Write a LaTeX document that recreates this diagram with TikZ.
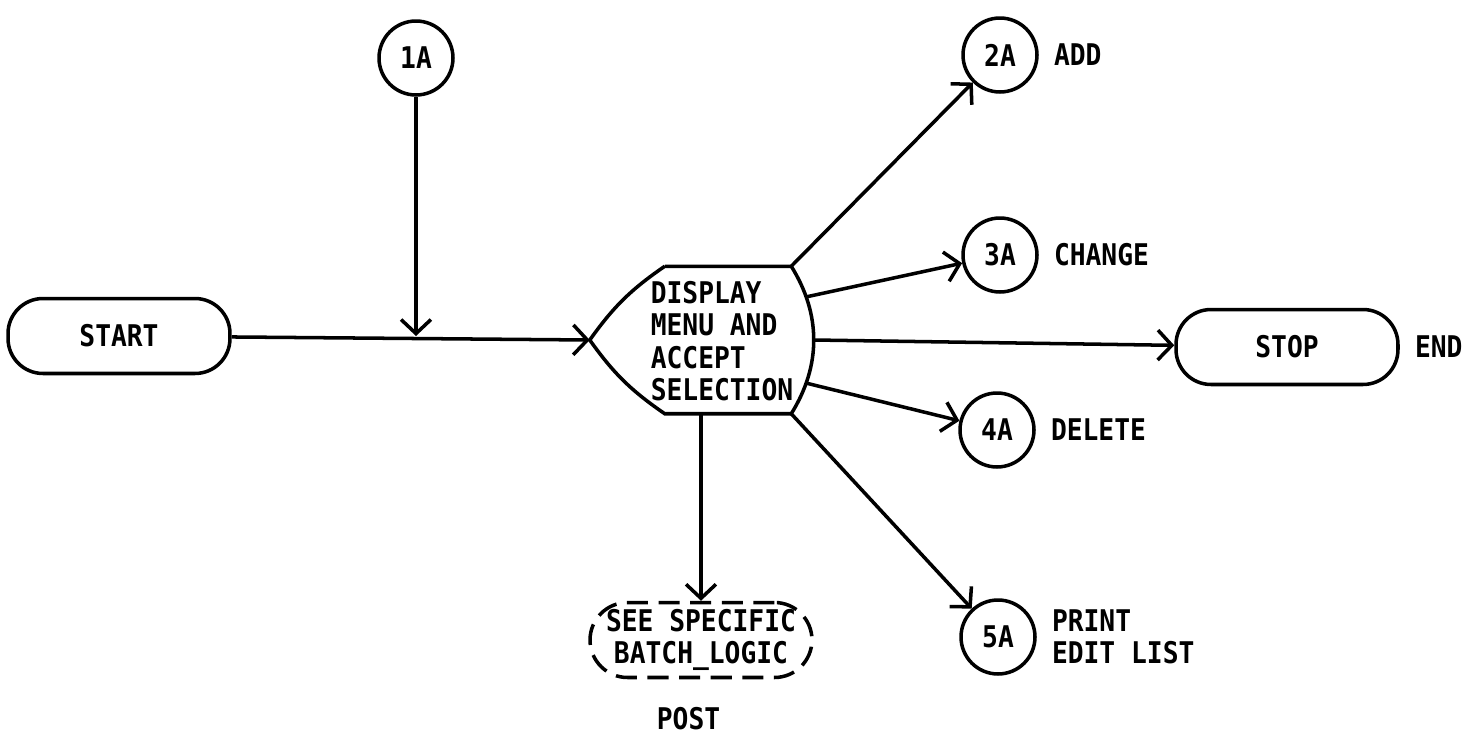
\documentclass[tikz,border=0pt]{standalone}
\usepackage{fontspec}
\newfontfamily\plotfont{DejaVu Sans Mono}[FakeStretch=0.88]
\usetikzlibrary{arrows.meta, positioning, calc}

\begin{document}
\begin{tikzpicture}[
    x=0.02cm, y=-0.02cm,
    >={Straight Barb[length=8pt,width=17pt]},
    line width=2pt,
    font=\plotfont\bfseries\fontsize{17}{18.5}\selectfont,
    terminal/.style={draw, rectangle, rounded corners=0.7cm, minimum width=4.44cm, minimum height=1.5cm, align=center},
    connector/.style={draw, circle, minimum size=1.48cm, inner sep=0pt},
    tag/.style={align=left, inner sep=2pt}
]
\useasboundingbox (0,0) rectangle (1464,734);

% Terminals
\node[terminal] (start) at (119,336) {START};
\node[terminal] (stop) at (1287,347) {STOP};
\node[terminal, dash pattern=on 12pt off 6pt, rounded corners=0.75cm] (see) at (701,640) {SEE SPECIFIC\\BATCH\_LOGIC};

% Off-page connectors
\node[connector] (c1a) at (416,58) {1A};
\node[connector] (c2a) at (1000,55) {2A};
\node[connector] (c3a) at (1000,255) {3A};
\node[connector] (c4a) at (997,430) {4A};
\node[connector] (c5a) at (998,637) {5A};

% Display menu
\node[minimum width=2.46cm, minimum height=2.88cm, inner sep=0pt] (disp) at (728,340) {};
\node[align=left, inner sep=0pt] (dtext) at (722,341) {DISPLAY\\MENU AND\\ACCEPT\\SELECTION};
\coordinate (dtip) at ($(disp.west)+(-75,0)$);
\draw (disp.north west) -- (disp.north east)
  .. controls +(30,48) and +(30,-48) .. (disp.south east)
  coordinate[pos=0.21] (d3) coordinate[pos=0.5] (dstop) coordinate[pos=0.79] (d4)
  -- (disp.south west) to[bend left=10] (dtip) to[bend left=10] (disp.north west);

% Labels
\node[tag, right=0.2cm of c2a] (add) {ADD};
\node[tag, right=0.2cm of c3a] (change) {CHANGE};
\node[tag, right=0.2cm of c4a] (delete) {DELETE};
\node[tag, right=0.2cm of c5a] (print) {PRINT\\EDIT LIST};
\node[tag, right=0.2cm of stop] (end) {END};
\node[tag, below=0.45cm of see, xshift=-0.25cm] (post) {POST};

% Flow lines
\draw[->] (start) -- (dtip);
\draw[->] (c1a) -- (c1a |- start);
\draw[->] (disp.north east) -- (c2a);
\draw[->] (d3) -- (c3a);
\draw[->] (dstop) -- (stop);
\draw[->] (d4) -- (c4a);
\draw[->] (disp.south east) -- (c5a);
\draw[->] (see |- disp.south) -- (see);

\end{tikzpicture}
\end{document}
